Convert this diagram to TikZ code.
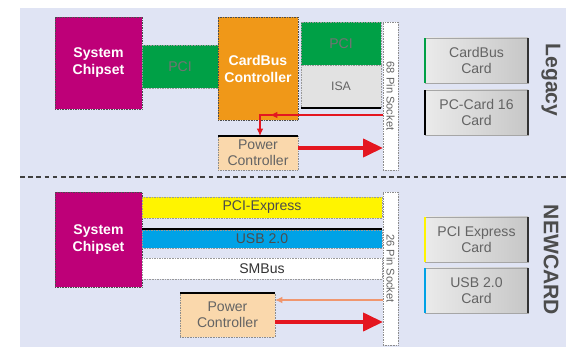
\documentclass[tikz,border=0pt]{standalone}
\usepackage{fontspec}
\setmainfont{Liberation Sans}
\usepackage{xcolor}
\definecolor{chipmag}{RGB}{190, 0, 120}
\definecolor{pcigreen}{RGB}{0, 160, 70}
\definecolor{cborange}{RGB}{240, 152, 24}
\definecolor{peach}{RGB}{250, 216, 172}
\definecolor{isagrey}{RGB}{226, 226, 226}
\definecolor{pciyellow}{RGB}{255, 244, 0}
\definecolor{usbblue}{RGB}{0, 162, 230}
\definecolor{panelbg}{RGB}{224, 228, 244}
\definecolor{sigred}{RGB}{228, 22, 32}
\definecolor{salmon}{RGB}{240, 150, 110}
\definecolor{textgrey}{RGB}{100, 100, 100}
\usepackage{tikz}
\usetikzlibrary{arrows.meta,positioning,calc}

\begin{document}
\begin{tikzpicture}[x=0.03cm, y=-0.03cm,
  every node/.style={font=\fontsize{12}{13.5}\selectfont, inner sep=0pt, outer sep=0pt},
  blk/.style={rectangle, anchor=north west, align=center},
  chip/.style={blk, fill=chipmag, draw=black!70, densely dotted, text=white, font=\fontsize{12}{14.5}\selectfont\bfseries},
  bus/.style={blk, draw=black!40, densely dotted, text=textgrey},
  power/.style={blk, fill=peach, draw=black!45, densely dotted, text=textgrey},
  socket/.style={blk, fill=white, draw=black!45, densely dotted},
  socklabel/.style={rotate=-90, text=textgrey, font=\fontsize{9.5}{10}\selectfont},
  card/.style={blk, left color=white!92!black, right color=black!22, draw=black!35, text=textgrey},
  side/.style={rotate=-90, text=black!70, font=\fontsize{18}{20}\selectfont\bfseries},
  bigarrow/.style={draw=sigred, line width=3.4pt, -{Triangle[length=6mm,width=5.4mm]}},
  thinarrow/.style={draw=#1, line width=1pt, -{Latex[length=2.2mm,width=2mm]}}
]
\useasboundingbox (0,0) rectangle (566,347);
\fill[panelbg] (20,8) rectangle (566,347);

% legacy half
\node[chip, minimum width=87*0.03cm, minimum height=92*0.03cm] (chipA) at (55,17) {System\\Chipset};
\node[bus, fill=pcigreen, text=black!55, minimum width=76*0.03cm, minimum height=43*0.03cm] (pciA) at (142,45) {PCI};
\node[chip, fill=cborange, minimum width=80*0.03cm, minimum height=103*0.03cm] (cbc) at (218,17) {CardBus\\Controller};
\node[bus, fill=pcigreen, text=black!55, minimum width=80*0.03cm, minimum height=43*0.03cm] (pciB) at (301,22) {PCI};
\node[bus, fill=isagrey, font=\fontsize{10.5}{12}\selectfont, minimum width=80*0.03cm, minimum height=43*0.03cm] (isa) at (301,65) {ISA};
\draw[black, line width=1.2pt] (isa.south west) -- (isa.south east);
\node[power, minimum width=80*0.03cm, minimum height=34*0.03cm] (pwrA) at (218,136) {Power\\Controller};
\draw[black, line width=1.5pt] (pwrA.north west) -- (pwrA.north east);
\node[socket, minimum width=15*0.03cm, minimum height=148*0.03cm] (sockA) at (383,22) {};
\node[socklabel] (sockAtxt) at (sockA.center) {68 Pin Socket};
\node[card, minimum width=103*0.03cm, minimum height=45*0.03cm] (cardCB) at (425,38) {CardBus\\Card};
\node[card, minimum width=103*0.03cm, minimum height=45*0.03cm] (cardPC) at (425,90) {PC-Card 16\\Card};
\draw[pcigreen, line width=2pt] (cardCB.north west) -- (cardCB.south west);
\draw[black, line width=2pt] (cardPC.north west) -- (cardPC.south west);
\draw[black!80, line width=1.5pt] (cardCB.north east) -- (cardCB.south east);
\draw[black!80, line width=1.5pt] (cardPC.north east) -- (cardPC.south east);
\node[side] (legacy) at (551,80) {Legacy};

\coordinate (tapA) at (260,115);
\draw[thinarrow=sigred] (sockA.west |- tapA) -- (tapA -| 270,0);
\draw[thinarrow=sigred] (tapA -| 272,0) -- (tapA) -- (tapA |- pwrA.north);
\draw[bigarrow] (pwrA.east |- 0,148) -- (sockA.west |- 0,148);

% divider
\draw[black!75, line width=1.2pt, dash pattern=on 4pt off 3pt] (20,177) -- (566,177);

% newcard half
\node[chip, minimum width=87*0.03cm, minimum height=95*0.03cm] (chipB) at (55,192) {System\\Chipset};
\node[bus, fill=pciyellow, text=black!70, minimum width=240*0.03cm, minimum height=21*0.03cm] (pcie) at (142,197) {PCI-Express};
\draw[black, line width=1.2pt] (142,229) -- (382,229);
\node[bus, fill=usbblue, text=black!70, minimum width=240*0.03cm, minimum height=18*0.03cm] (usb) at (142,230) {USB 2.0};
\node[bus, fill=white, text=black!80, minimum width=240*0.03cm, minimum height=21*0.03cm] (smb) at (142,258) {SMBus};
\node[power, minimum width=95*0.03cm, minimum height=44*0.03cm] (pwrB) at (180,293) {Power\\Controller};
\draw[black, line width=1.5pt] (pwrB.north west) -- (pwrB.north east);
\node[socket, minimum width=15*0.03cm, minimum height=153*0.03cm] (sockB) at (383,192) {};
\node[socklabel] (sockBtxt) at (sockB.center) {26 Pin Socket};
\node[card, minimum width=103*0.03cm, minimum height=45*0.03cm] (cardPX) at (425,217) {PCI Express\\Card};
\node[card, minimum width=103*0.03cm, minimum height=45*0.03cm] (cardUSB) at (425,268) {USB 2.0\\Card};
\draw[pciyellow, line width=2pt] (cardPX.north west) -- (cardPX.south west);
\draw[usbblue, line width=2pt] (cardUSB.north west) -- (cardUSB.south west);
\draw[black!80, line width=1.5pt] (cardPX.north east) -- (cardPX.south east);
\draw[black!80, line width=1.5pt] (cardUSB.north east) -- (cardUSB.south east);
\node[side] (newcard) at (551,260) {NEWCARD};

\draw[thinarrow=salmon] (sockB.west |- 0,300) -- (pwrB.east |- 0,300);
\draw[bigarrow] (pwrB.east |- 0,322) -- (sockB.west |- 0,322);
\end{tikzpicture}
\end{document}
